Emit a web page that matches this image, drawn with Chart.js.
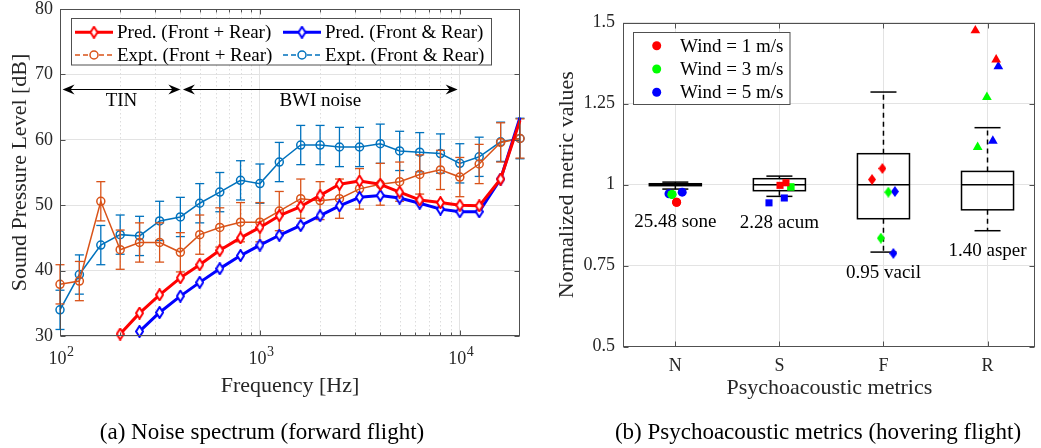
<!DOCTYPE html>
<html>
<head>
<meta charset="utf-8">
<title>Noise spectrum and psychoacoustic metrics</title>
<script src="https://cdn.jsdelivr.net/npm/chart.js@4.4.1/dist/chart.umd.min.js"></script>
<style>
  html, body { margin: 0; padding: 0; background: #ffffff; }
  body { position: relative; width: 1041px; height: 448px; overflow: hidden;
         font-family: "Liberation Serif", "Times New Roman", serif; color: #000; }
  canvas { position: absolute; top: 0; }
  #spectrum { left: 0; }
  #metrics { left: 530px; }
  .caption { position: absolute; top: 419px; font-size: 23px; line-height: 26px;
             white-space: nowrap; transform: translateX(-50%); }
</style>
</head>
<body>
<canvas id="spectrum" width="530" height="420"></canvas>
<canvas id="metrics" width="511" height="420"></canvas>
<div class="caption" style="left:262px">(a) Noise spectrum (forward flight)</div>
<div class="caption" style="left:818px">(b) Psychoacoustic metrics (hovering flight)</div>
<script>
// ---------------------------------------------------------------------------
// (a) One-third-octave noise spectrum, forward flight
// ---------------------------------------------------------------------------
const bandFreqs = [100, 125, 160, 200, 250, 315, 400, 500, 630, 800, 1000, 1250,
                   1600, 2000, 2500, 3150, 4000, 5000, 6300, 8000, 10000, 12500, 16000, 20000];
const predFrontPlusRear = [null, null, null, 30.3, 33.5, 36.3, 38.9, 40.9, 43.1, 45.0, 46.6, 48.4,
                           49.8, 51.5, 53.2, 53.7, 53.2, 52.0, 50.8, 50.4, 50.0, 49.9, 54.0, 63.0];
const predFrontAndRear  = [null, null, null, null, 30.7, 33.6, 36.1, 38.2, 40.3, 42.3, 43.9, 45.4,
                           46.9, 48.4, 49.9, 51.2, 51.5, 51.1, 50.3, 49.4, 49.0, 49.0, 54.0, 63.4];
const exptFrontPlusRear = [37.9, 38.4, 50.6, 43.2, 44.3, 44.3, 42.8, 45.5, 46.6, 47.4, 47.4, 49.1,
                           51.0, 50.7, 51.0, 52.5, 53.2, 53.6, 54.7, 55.4, 54.3, 56.3, 59.6, 60.2];
const exptFrontPlusRearSd = [3.0, 3.0, 3.0, 3.0, 3.0, 3.0, 3.0, 3.0, 3.0, 3.0, 3.0, 3.0,
                             3.0, 2.9, 3.0, 3.1, 3.2, 3.0, 3.0, 3.0, 3.0, 3.0, 3.0, 3.0];
const exptFrontAndRear  = [34.0, 39.4, 43.9, 45.5, 45.3, 47.6, 48.2, 50.3, 52.0, 53.8, 53.3, 56.6,
                           59.2, 59.2, 58.9, 58.9, 59.4, 58.3, 58.1, 57.9, 56.4, 57.4, 59.7, 60.2];
const exptFrontAndRearSd = [3.0, 3.0, 3.0, 3.0, 3.0, 3.0, 3.0, 3.0, 3.0, 3.0, 3.0, 3.0,
                            3.0, 3.0, 3.0, 3.0, 3.0, 3.0, 3.0, 3.0, 3.0, 3.0, 3.0, 3.1];
const decadeTicks = [100, 1000, 10000];
const decadeBase = '10';
const decadeExponents = ['2', '3', '4'];
const minorFreqTicks = [200, 300, 400, 500, 600, 700, 800, 900,
                        2000, 3000, 4000, 5000, 6000, 7000, 8000, 9000];
const levelTicks = [30, 40, 50, 60, 70, 80];
const bandNames = ['TIN', 'BWI noise'];
const bandStart = [103, 412];
const bandEnd = [400, 9750];
const bandLevel = 67.8;

// ---------------------------------------------------------------------------
// (b) Psychoacoustic metrics, hovering flight (normalised by the median)
// ---------------------------------------------------------------------------
const metrics = ['N', 'S', 'F', 'R'];
const metricUnits = ['25.48 sone', '2.28 acum', '0.95 vacil', '1.40 asper'];
const boxLower = [0.9865, 0.964, 0.792, 0.858];
const boxQ1 = [0.997, 0.9815, 0.895, 0.9225];
const boxMedian = [1.0, 1.0, 1.0, 1.0];
const boxQ3 = [1.003, 1.0185, 1.0957, 1.041];
const boxUpper = [1.008, 1.0265, 1.286, 1.176];
const metricTicks = [0.5, 0.75, 1, 1.25, 1.5];
const windLabels = ['Wind = 1 m/s', 'Wind = 3 m/s', 'Wind = 5 m/s'];
const wind1X = [1.012, 1.012, 2.006, 2.063, 2.89, 2.99, 3.883, 4.083];
const wind1Y = [0.946, 0.946, 0.998, 1.006, 1.016, 1.05, 1.476, 1.386];
const wind3X = [0.968, 0.968, 2.11, 2.11, 3.047, 2.975, 3.994, 3.905];
const wind3Y = [0.970, 0.970, 0.993, 0.993, 0.977, 0.835, 1.27, 1.116];
const wind5X = [0.939, 1.066, 1.90, 2.047, 3.11, 3.095, 4.104, 4.051];
const wind5Y = [0.972, 0.977, 0.944, 0.959, 0.979, 0.788, 1.365, 1.135];

// ---------------------------------------------------------------------------
const SERIF = '"Liberation Serif", "Times New Roman", serif';
const GRID = '#e3e3e3';
const AXIS = '#505050';
const TEXT = '#262626';
const RED = '#FF0000', BLUE = '#0000FF', ORANGE = '#D95319', SKY = '#0072BD';
Chart.defaults.font.family = SERIF;
Chart.defaults.color = TEXT;

function diamondImage(fill, stroke, w, h, lw) {
  const c = document.createElement('canvas');
  c.width = w; c.height = h;
  const g = c.getContext('2d');
  const m = lw / 2;
  g.beginPath();
  g.moveTo(w / 2, m); g.lineTo(w - m, h / 2); g.lineTo(w / 2, h - m); g.lineTo(m, h / 2);
  g.closePath();
  if (fill) { g.fillStyle = fill; g.fill(); }
  if (stroke) { g.lineJoin = 'miter'; g.lineWidth = lw; g.strokeStyle = stroke; g.stroke(); }
  return c;
}

function seg(ctx, x1, y1, x2, y2) {
  ctx.beginPath(); ctx.moveTo(x1, y1); ctx.lineTo(x2, y2); ctx.stroke();
}

function arrowHead(ctx, x, y, dir) {
  const len = 12, half = 5, notch = 4;
  ctx.beginPath();
  ctx.moveTo(x, y);
  ctx.lineTo(x - dir * len, y - half);
  ctx.lineTo(x - dir * (len - notch), y);
  ctx.lineTo(x - dir * len, y + half);
  ctx.closePath();
  ctx.fill();
}

// axis box with inward tick marks
function drawFrame(chart, xTickVals, xMinorVals, yTickVals) {
  const { ctx, chartArea: a, scales: { x, y } } = chart;
  ctx.save();
  ctx.strokeStyle = AXIS;
  ctx.lineWidth = 1;
  const L = Math.round(a.left) + 0.5, R = Math.round(a.right) - 0.5;
  const T = Math.round(a.top) + 0.5, B = Math.round(a.bottom) - 0.5;
  ctx.strokeRect(L, T, R - L, B - T);
  xTickVals.forEach(v => {
    const px = Math.round(x.getPixelForValue(v)) + 0.5;
    seg(ctx, px, B, px, B - 5); seg(ctx, px, T, px, T + 5);
  });
  xMinorVals.forEach(v => {
    const px = Math.round(x.getPixelForValue(v)) + 0.5;
    seg(ctx, px, B, px, B - 3); seg(ctx, px, T, px, T + 3);
  });
  yTickVals.forEach(v => {
    const py = Math.round(y.getPixelForValue(v)) + 0.5;
    seg(ctx, L, py, L + 5, py); seg(ctx, R, py, R - 5, py);
  });
  ctx.restore();
}

// ---------------------------------------------------------------------------
// Chart (a)
// ---------------------------------------------------------------------------
const predMarkRed = diamondImage('#ffffff', RED, 9, 13, 2);
const predMarkBlue = diamondImage('#ffffff', BLUE, 9, 13, 2);
const lastBand = bandFreqs.length - 1;
const asPoints = ys => bandFreqs.map((f, i) => ({ x: f, y: ys[i] }));

const spectrumDecor = {
  id: 'spectrumDecor',
  beforeDatasetsDraw(chart) {
    const { ctx, chartArea: a, scales: { x } } = chart;
    ctx.save();
    ctx.strokeStyle = '#dcdcdc';
    ctx.lineWidth = 1;
    ctx.setLineDash([1.5, 2.5]);
    minorFreqTicks.forEach(v => {
      const px = Math.round(x.getPixelForValue(v)) + 0.5;
      seg(ctx, px, a.top, px, a.bottom);
    });
    ctx.restore();
  },
  afterDatasetDraw(chart, args) {
    const ds = chart.data.datasets[args.index];
    if (!ds.errorBars) return;
    const { ctx, scales: { y } } = chart;
    ctx.save();
    ctx.strokeStyle = ds.borderColor;
    ctx.lineWidth = 1.3;
    args.meta.data.forEach((pt, i) => {
      const v = ds.data[i].y, e = ds.errorBars[i];
      if (v == null) return;
      const lo = y.getPixelForValue(v - e), hi = y.getPixelForValue(v + e);
      seg(ctx, pt.x, lo, pt.x, hi);
      seg(ctx, pt.x - 4.5, lo, pt.x + 4.5, lo);
      seg(ctx, pt.x - 4.5, hi, pt.x + 4.5, hi);
    });
    ctx.restore();
  },
  afterDraw(chart) {
    const { ctx, chartArea: a, scales: { x, y } } = chart;
    drawFrame(chart, decadeTicks, minorFreqTicks, levelTicks);

    // decade labels written as a base with a raised exponent
    ctx.save();
    ctx.fillStyle = TEXT;
    ctx.textBaseline = 'middle';
    ctx.textAlign = 'left';
    decadeTicks.forEach((v, i) => {
      ctx.font = '18px ' + SERIF;
      const wb = ctx.measureText(decadeBase).width;
      ctx.font = '14px ' + SERIF;
      const we = ctx.measureText(decadeExponents[i]).width;
      const x0 = x.getPixelForValue(v) - (wb + we) / 2 + 1;
      const yb = a.bottom + 23;
      ctx.font = '18px ' + SERIF;
      ctx.fillText(decadeBase, x0, yb);
      ctx.font = '14px ' + SERIF;
      ctx.fillText(decadeExponents[i], x0 + wb + 0.5, yb - 7);
    });
    ctx.restore();

    // frequency ranges of the two noise sources
    ctx.save();
    ctx.strokeStyle = '#000';
    ctx.fillStyle = '#000';
    ctx.lineWidth = 1;
    const py = Math.round(y.getPixelForValue(bandLevel)) + 0.5;
    ctx.font = '19px ' + SERIF;
    ctx.textAlign = 'center';
    ctx.textBaseline = 'middle';
    bandNames.forEach((name, i) => {
      const x1 = x.getPixelForValue(bandStart[i]), x2 = x.getPixelForValue(bandEnd[i]);
      seg(ctx, x1 + 4, py, x2 - 4, py);
      arrowHead(ctx, x1, py, -1);
      arrowHead(ctx, x2, py, 1);
      const mid = x.getPixelForValue(Math.sqrt(bandStart[i] * bandEnd[i]));
      ctx.fillText(name, mid, py + 12);
    });
    ctx.restore();

    // legend, two columns
    ctx.save();
    const bx = 71.5, by = 18.5, bw = 420, bh = 46.5;
    ctx.fillStyle = '#fff';
    ctx.fillRect(bx, by, bw, bh);
    ctx.strokeStyle = AXIS;
    ctx.lineWidth = 1;
    ctx.strokeRect(bx, by, bw, bh);
    const cols = [75, 283], rows = [32.3, 55];
    chart.data.datasets.forEach((ds, i) => {
      const cx = cols[i % 2], cy = rows[Math.floor(i / 2)];
      ctx.strokeStyle = ds.borderColor;
      ctx.lineWidth = ds.borderWidth;
      ctx.setLineDash(ds.errorBars ? [5, 3] : []);
      seg(ctx, cx, cy, cx + 38, cy);
      ctx.setLineDash([]);
      if (ds.errorBars) {
        ctx.fillStyle = '#fff';
        ctx.beginPath(); ctx.arc(cx + 19, cy, 4, 0, Math.PI * 2); ctx.fill();
        ctx.lineWidth = 1.5;
        ctx.stroke();
      } else {
        const img = i === 0 ? predMarkRed : predMarkBlue;
        ctx.drawImage(img, cx + 19 - img.width / 2, cy - img.height / 2);
      }
      ctx.fillStyle = '#000';
      ctx.font = '19px ' + SERIF;
      ctx.textAlign = 'left';
      ctx.textBaseline = 'middle';
      ctx.fillText(ds.label, cx + 42, cy + 1);
    });
    ctx.restore();
  }
};

new Chart(document.getElementById('spectrum'), {
  type: 'line',
  data: {
    datasets: [
      {
        label: 'Pred. (Front + Rear)', data: asPoints(predFrontPlusRear),
        borderColor: RED, borderWidth: 3, borderJoinStyle: 'round',
        pointStyle: predMarkRed, pointRadius: c => (c.dataIndex === lastBand ? 0 : 6),
        clip: false
      },
      {
        label: 'Pred. (Front & Rear)', data: asPoints(predFrontAndRear),
        borderColor: BLUE, borderWidth: 3, borderJoinStyle: 'round',
        pointStyle: predMarkBlue, pointRadius: c => (c.dataIndex === lastBand ? 0 : 6),
        clip: false
      },
      {
        label: 'Expt. (Front + Rear)', data: asPoints(exptFrontPlusRear),
        errorBars: exptFrontPlusRearSd,
        borderColor: ORANGE, borderWidth: 1.5,
        pointStyle: 'circle', pointRadius: 4, pointBorderWidth: 1.5,
        pointBorderColor: ORANGE, pointBackgroundColor: 'rgba(0,0,0,0)',
        clip: false
      },
      {
        label: 'Expt. (Front & Rear)', data: asPoints(exptFrontAndRear),
        errorBars: exptFrontAndRearSd,
        borderColor: SKY, borderWidth: 1.5,
        pointStyle: 'circle', pointRadius: 4, pointBorderWidth: 1.5,
        pointBorderColor: SKY, pointBackgroundColor: 'rgba(0,0,0,0)',
        clip: false
      }
    ]
  },
  options: {
    responsive: false, animation: false, devicePixelRatio: 1,
    layout: { padding: { top: 8.5, right: 10, left: 0, bottom: 0 } },
    plugins: { legend: { display: false }, tooltip: { enabled: false } },
    elements: { line: { tension: 0 } },
    scales: {
      x: {
        type: 'logarithmic', min: 100, max: 20000,
        afterBuildTicks: s => {
          s.ticks = decadeTicks.concat(minorFreqTicks).sort((a, b) => a - b)
            .map(v => ({ value: v, major: decadeTicks.includes(v) }));
        },
        afterFit: s => { s.height = 84; s.paddingLeft = 0; s.paddingRight = 0; },
        ticks: { display: false },
        grid: {
          drawTicks: false, lineWidth: 1,
          color: c => (c.tick && decadeTicks.includes(c.tick.value)) ? GRID : 'rgba(0,0,0,0)'
        },
        border: { display: false },
        title: { display: true, text: 'Frequency [Hz]', font: { size: 22 }, color: TEXT,
                 padding: { top: 0, bottom: 21 } }
      },
      y: {
        min: 30, max: 80,
        afterBuildTicks: s => { s.ticks = levelTicks.map(v => ({ value: v })); },
        ticks: { padding: 7, font: { size: 18 }, color: TEXT },
        afterFit: s => { s.width = 60; s.paddingTop = 0; s.paddingBottom = 0; },
        grid: { drawTicks: false, color: GRID, lineWidth: 1 },
        border: { display: false },
        title: { display: true, text: 'Sound Pressure Level [dB]', font: { size: 22 }, color: TEXT,
                 padding: { top: 7, bottom: 0 } }
      }
    }
  },
  plugins: [spectrumDecor]
});

// ---------------------------------------------------------------------------
// Chart (b)
// ---------------------------------------------------------------------------
const metricMarks = ['circle', 'rect', 'diamond', 'triangle'];
const windColors = [RED, '#00FF00', BLUE];
const diamondMarks = windColors.map(col => diamondImage(col, null, 8, 11, 0));
const windSeries = [[wind1X, wind1Y], [wind3X, wind3Y], [wind5X, wind5Y]];
const markSize = { circle: 4.5, rect: 5, triangle: 5.6, diamond: 5 };

function metricIndex(c) { return Math.round(c.raw.x) - 1; }

const metricsDecor = {
  id: 'metricsDecor',
  beforeDatasetsDraw(chart) {
    const { ctx, scales: { x, y } } = chart;
    ctx.save();
    ctx.strokeStyle = '#000';
    ctx.lineWidth = 1.5;
    metrics.forEach((m, i) => {
      const c = i + 1;
      const xl = x.getPixelForValue(c - 0.25), xr = x.getPixelForValue(c + 0.25);
      const cl = x.getPixelForValue(c - 0.125), cr = x.getPixelForValue(c + 0.125);
      const xc = x.getPixelForValue(c);
      const yLo = y.getPixelForValue(boxLower[i]), yHi = y.getPixelForValue(boxUpper[i]);
      const y1 = y.getPixelForValue(boxQ1[i]), y3 = y.getPixelForValue(boxQ3[i]);
      const ym = y.getPixelForValue(boxMedian[i]);
      ctx.setLineDash([5, 4]);
      seg(ctx, xc, y3, xc, yHi);
      seg(ctx, xc, y1, xc, yLo);
      ctx.setLineDash([]);
      seg(ctx, cl, yHi, cr, yHi);
      seg(ctx, cl, yLo, cr, yLo);
      ctx.strokeRect(xl, y3, xr - xl, y1 - y3);
      seg(ctx, xl, ym, xr, ym);
    });
    ctx.restore();
  },
  afterDraw(chart) {
    const { ctx, scales: { x, y } } = chart;
    drawFrame(chart, [1, 2, 3, 4], [], metricTicks);

    // reference value of each metric, written under its lowest mark
    ctx.save();
    ctx.fillStyle = '#000';
    ctx.font = '19px ' + SERIF;
    ctx.textAlign = 'center';
    ctx.textBaseline = 'middle';
    metricUnits.forEach((u, i) => {
      let low = boxLower[i];
      windSeries.forEach(([xs, ys]) => xs.forEach((xv, k) => {
        if (Math.round(xv) === i + 1) low = Math.min(low, ys[k]);
      }));
      ctx.fillText(u, x.getPixelForValue(i + 1), y.getPixelForValue(low) + 20);
    });
    ctx.restore();

    // legend
    ctx.save();
    const bx = 103.5, by = 32.5, bw = 156.5, bh = 72;
    ctx.fillStyle = '#fff';
    ctx.fillRect(bx, by, bw, bh);
    ctx.strokeStyle = AXIS;
    ctx.lineWidth = 1;
    ctx.strokeRect(bx, by, bw, bh);
    const rows = [45.7, 69, 92.3];
    windLabels.forEach((lab, i) => {
      ctx.fillStyle = windColors[i];
      ctx.beginPath(); ctx.arc(126.7, rows[i], 4.5, 0, Math.PI * 2); ctx.fill();
      ctx.fillStyle = '#000';
      ctx.font = '19px ' + SERIF;
      ctx.textAlign = 'left';
      ctx.textBaseline = 'middle';
      ctx.fillText(lab, 150, rows[i] + 1);
    });
    ctx.restore();
  }
};

new Chart(document.getElementById('metrics'), {
  type: 'scatter',
  data: {
    datasets: windSeries.map(([xs, ys], w) => ({
      label: windLabels[w],
      data: xs.map((xv, k) => ({ x: xv, y: ys[k] })),
      backgroundColor: windColors[w],
      borderColor: windColors[w],
      borderWidth: 0,
      pointStyle: c => {
        const s = metricMarks[metricIndex(c)];
        return s === 'diamond' ? diamondMarks[w] : s;
      },
      pointRadius: c => markSize[metricMarks[metricIndex(c)]],
      clip: false
    }))
  },
  options: {
    responsive: false, animation: false, devicePixelRatio: 1,
    layout: { padding: { top: 22.7, right: 0, left: 0, bottom: 0 } },
    plugins: { legend: { display: false }, tooltip: { enabled: false } },
    scales: {
      x: {
        type: 'linear', min: 0.5, max: 4.46,
        afterBuildTicks: s => { s.ticks = metrics.map((m, i) => ({ value: i + 1 })); },
        afterFit: s => { s.height = 420 - 346.7; s.paddingLeft = 0; s.paddingRight = 0; },
        ticks: {
          autoSkip: false, maxRotation: 0, minRotation: 0, padding: 9,
          font: { size: 18 }, color: TEXT,
          callback: v => metrics[Math.round(v) - 1] || ''
        },
        grid: { drawTicks: false, color: GRID, lineWidth: 1 },
        border: { display: false },
        title: { display: true, text: 'Psychoacoustic metrics', font: { size: 22 }, color: TEXT,
                 padding: { top: 0, bottom: 18.8 } }
      },
      y: {
        min: 0.5, max: 1.5,
        afterBuildTicks: s => { s.ticks = metricTicks.map(v => ({ value: v })); },
        ticks: { padding: 8.3, font: { size: 18 }, color: TEXT, callback: v => String(v) },
        afterFit: s => { s.width = 93.3; s.paddingTop = 0; s.paddingBottom = 0; },
        grid: { drawTicks: false, color: GRID, lineWidth: 1 },
        border: { display: false },
        title: { display: true, text: 'Normalized metric values', font: { size: 22 }, color: TEXT,
                 padding: { top: 23.8, bottom: 0 } }
      }
    }
  },
  plugins: [metricsDecor]
});
</script>
</body>
</html>
